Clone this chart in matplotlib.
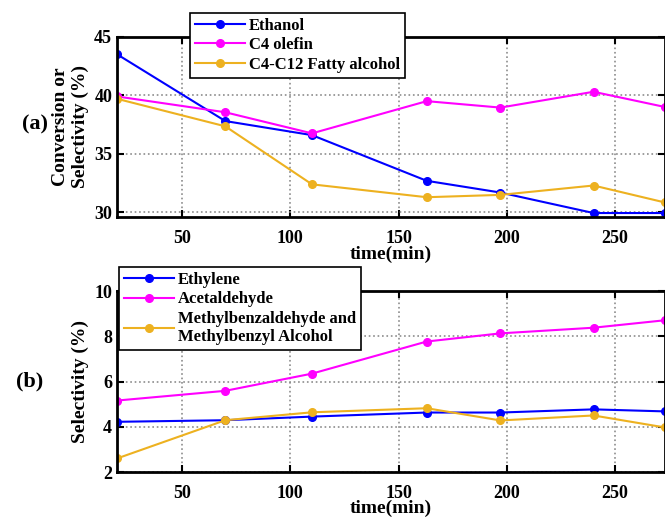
import matplotlib
matplotlib.use("Agg")
import matplotlib.pyplot as plt

plt.rcParams["font.family"] = ["Liberation Serif", "DejaVu Serif"]
plt.rcParams["font.weight"] = "bold"

TIME = [20, 70, 110, 163, 197, 240, 273]

# (a) conversion / selectivity
ETHANOL = [43.5, 37.8, 36.6, 32.7, 31.7, 29.95, 29.95]
C4_OLEFIN = [39.9, 38.55, 36.75, 39.5, 38.95, 40.3, 39.0]
FATTY_ALCOHOL = [39.7, 37.35, 32.4, 31.3, 31.5, 32.3, 30.85]

# (b) selectivity
ETHYLENE = [4.22, 4.29, 4.45, 4.63, 4.63, 4.77, 4.68]
ACETALDEHYDE = [5.16, 5.59, 6.35, 7.77, 8.13, 8.38, 8.71]
METHYLBENZ = [2.6, 4.29, 4.64, 4.82, 4.28, 4.5, 3.97]

BLUE = "#0000FF"
MAGENTA = "#FF00FF"
ORANGE = "#EDB120"

fig = plt.figure(figsize=(6.65, 5.17), dpi=100)
ax1 = fig.add_axes([0.176, 0.580, 0.824, 0.349])
ax2 = fig.add_axes([0.176, 0.087, 0.824, 0.350])


def style(ax):
    ax.set_xlim(20, 273)
    ax.set_xticks([50, 100, 150, 200, 250])
    ax.grid(True, color="#8c8c8c", linestyle=":", linewidth=1.2)
    ax.tick_params(direction="in", top=True, right=True, labelsize=13,
                   width=1.5, length=5)
    ax.tick_params(axis="x", pad=9)
    for sp in ax.spines.values():
        sp.set_linewidth(2)
    for lab in ax.get_xticklabels() + ax.get_yticklabels():
        lab.set_fontweight("bold")
    ax.set_xlabel("time(min)", fontsize=14, fontweight="bold", labelpad=-1)


def add_legend(ax, x, y):
    leg = ax.legend(loc="upper left", bbox_to_anchor=(x / 665, 1 - y / 517),
                    bbox_transform=fig.transFigure, fontsize=12, frameon=True,
                    fancybox=False, edgecolor="black", framealpha=1,
                    handlelength=3, handletextpad=0.25, borderpad=0.3,
                    labelspacing=0.2, borderaxespad=0)
    leg.get_frame().set_linewidth(1.2)
    leg.set_zorder(10)
    return leg


kw = dict(marker="o", markersize=5.5, linewidth=1.5)

ax1.plot(TIME, ETHANOL, color=BLUE, label="Ethanol", **kw)
ax1.plot(TIME, C4_OLEFIN, color=MAGENTA, label="C4 olefin", **kw)
ax1.plot(TIME, FATTY_ALCOHOL, color=ORANGE, label="C4-C12 Fatty alcohol", **kw)
ax1.set_ylim(29.6, 45)
ax1.set_yticks([30, 35, 40, 45])
style(ax1)
ax1.set_ylabel("Conversion or\nSelectivity (%)", fontsize=14, fontweight="bold")
add_legend(ax1, 190, 13)

ax2.plot(TIME, ETHYLENE, color=BLUE, label="Ethylene", **kw)
ax2.plot(TIME, ACETALDEHYDE, color=MAGENTA, label="Acetaldehyde", **kw)
ax2.plot(TIME, METHYLBENZ, color=ORANGE,
         label="Methylbenzaldehyde and\nMethylbenzyl Alcohol", **kw)
ax2.set_ylim(2, 10)
ax2.set_yticks([2, 4, 6, 8, 10])
style(ax2)
ax2.set_ylabel("Selectivity (%)", fontsize=14, fontweight="bold")
add_legend(ax2, 119, 267)

fig.text(22 / 665, 1 - 124 / 517, "(a)", fontsize=16, fontweight="bold", va="center")
fig.text(16 / 665, 1 - 381 / 517, "(b)", fontsize=16, fontweight="bold", va="center")

fig.savefig("out.png", dpi=100)
